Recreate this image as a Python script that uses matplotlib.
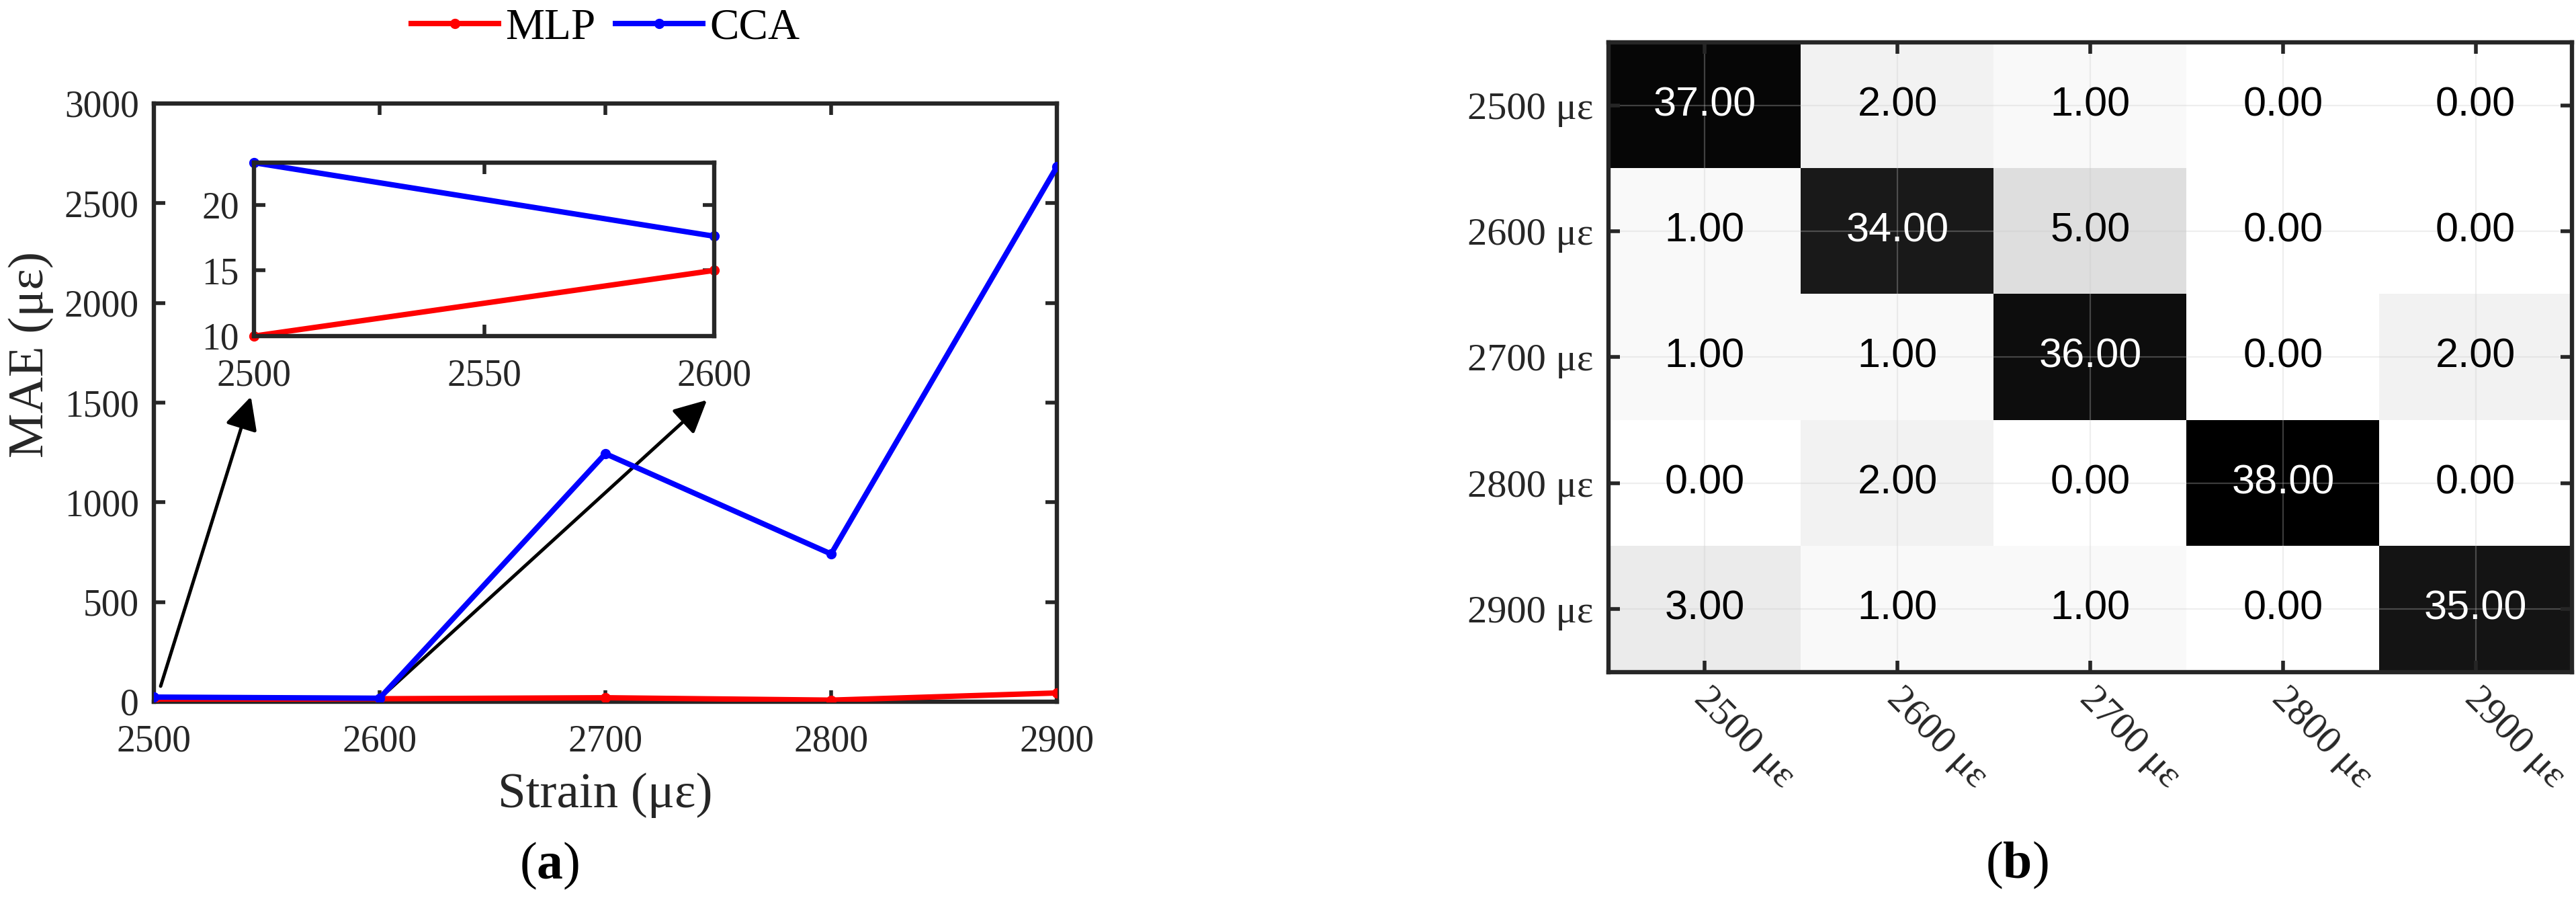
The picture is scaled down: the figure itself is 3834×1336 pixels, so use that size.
import numpy as np
import matplotlib
matplotlib.use("Agg")
import matplotlib.pyplot as plt
import matplotlib.transforms as mtransforms

plt.rcParams['font.family'] = ['Liberation Serif', 'DejaVu Serif']
plt.rcParams['mathtext.fontset'] = 'custom'
plt.rcParams['mathtext.rm'] = 'Liberation Serif'
plt.rcParams['mathtext.bf'] = 'Liberation Serif:bold'

# (a) MAE vs strain
strain = [2500, 2600, 2700, 2800, 2900]
mae_mlp = [10, 15, 20, 8, 44]
mae_cca = [23.2, 17.6, 1244, 741, 2683]

# (b) confusion matrix
classes = ['2500 με', '2600 με', '2700 με', '2800 με', '2900 με']
conf = np.array([
    [37, 2, 1, 0, 0],
    [1, 34, 5, 0, 0],
    [1, 1, 36, 0, 2],
    [0, 2, 0, 38, 0],
    [3, 1, 1, 0, 35],
])

W, H = 3834, 1336
DPI = 200
fig = plt.figure(figsize=(W / DPI, H / DPI), dpi=DPI)

def fr(x0, y0, x1, y1):
    # pixel box -> figure fraction rect
    return [x0 / W, 1 - y1 / H, (x1 - x0) / W, (y1 - y0) / H]

AX_COL = '#262626'
LW = 2.9

def matlab_style(ax, size=20, pad=8):
    for s in ax.spines.values():
        s.set_linewidth(2.3)
        s.set_color(AX_COL)
    ax.tick_params(direction='in', top=True, right=True, length=6, width=2,
                   color=AX_COL, labelcolor=AX_COL, labelsize=size, pad=pad)

# ---- left panel
ax = fig.add_axes(fr(229, 154, 1573, 1044))
l1, = ax.plot(strain, mae_mlp, '-o', color='red', lw=LW, ms=4.5, label='MLP', zorder=3)
l2, = ax.plot(strain, mae_cca, '-o', color='blue', lw=LW, ms=4.5, label='CCA', zorder=3)
ax.set_xlim(2500, 2900)
ax.set_ylim(0, 3000)
ax.set_xticks(strain)
ax.set_yticks(np.arange(0, 3001, 500))
matlab_style(ax)
ax.tick_params(axis='x', pad=12)
ax.set_xlabel('Strain (με)', fontsize=27, color=AX_COL)
ax.xaxis.set_label_coords(0.5, -0.119)
ax.set_ylabel('MAE (με)', fontsize=27, color=AX_COL, va='center')
ax.yaxis.set_label_coords(-0.136, 0.58)

arrow = dict(arrowstyle='-|>,head_length=0.4,head_width=0.2', lw=1.8, color='k',
             shrinkA=0, shrinkB=0, mutation_scale=37)
ax.annotate('', xy=(2543, 1530), xytext=(2503, 78), arrowprops=arrow, zorder=2)
ax.annotate('', xy=(2745, 1513), xytext=(2602, 37), arrowprops=arrow, zorder=2)

fig.legend(handles=[l1, l2], loc='center', bbox_to_anchor=(901 / W, 1 - 42 / H),
           ncol=2, frameon=False, fontsize=23.5, handlelength=2.0,
           handletextpad=0.15, columnspacing=0.45)

# inset
axi = fig.add_axes(fr(378, 242, 1063, 500))
axi.plot(strain[:2], mae_mlp[:2], '-o', color='red', lw=LW, ms=4.5, clip_on=False)
axi.plot(strain[:2], mae_cca[:2], '-o', color='blue', lw=LW, ms=4.5, clip_on=False)
axi.set_xlim(2500, 2600)
axi.set_ylim(10, 23.2)
axi.set_xticks([2500, 2550, 2600])
axi.set_yticks([10, 15, 20])
matlab_style(axi)
axi.tick_params(axis='x', pad=12)

fig.text(818 / W, 1 - 1288 / H, r'($\mathbf{a}$)', fontsize=28, ha='center', va='center')

# ---- right panel
axh = fig.add_axes(fr(2394, 63, 3828, 1000))
axh.imshow(conf, cmap='gray_r', vmin=0, vmax=38, aspect='auto', interpolation='nearest')
for i in range(conf.shape[0]):
    for j in range(conf.shape[1]):
        v = conf[i, j]
        axh.text(j, i, f'{v:.2f}', ha='center', va='center', fontsize=22,
                 family='Liberation Sans', color='white' if v > 19 else 'black')
axh.set_xticks(range(len(classes)))
axh.set_yticks(range(len(classes)))
axh.set_yticklabels(classes)
axh.set_xticklabels(classes, rotation=-45, ha='left', va='center', rotation_mode='anchor')
matlab_style(axh, size=21)
axh.tick_params(axis='x', pad=10)
axh.grid(True, color='#c8c8c8', lw=0.8, alpha=0.3)
axh.set_axisbelow(False)
offset = mtransforms.ScaledTranslation(-8 / DPI, -4 / DPI, fig.dpi_scale_trans)
for lab in axh.get_xticklabels():
    lab.set_transform(lab.get_transform() + offset)

fig.text(3002 / W, 1 - 1287 / H, r'($\mathbf{b}$)', fontsize=28, ha='center', va='center')

fig.savefig('out.png', dpi=DPI)
